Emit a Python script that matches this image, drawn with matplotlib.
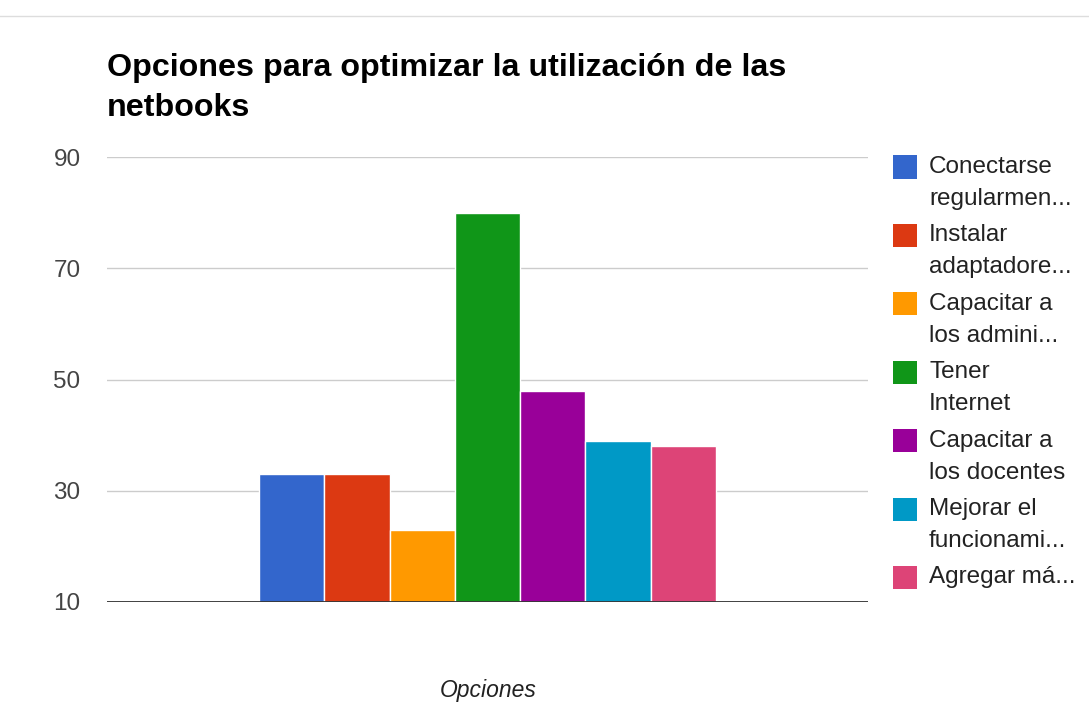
import matplotlib
matplotlib.use("Agg")
import matplotlib.pyplot as plt
from matplotlib.patches import Rectangle
from matplotlib.lines import Line2D

plt.rcParams['font.family'] = ['Liberation Sans', 'DejaVu Sans']

title = "Opciones para optimizar la utilización de las\nnetbooks"
xlabel = "Opciones"
series = ["Conectarse\nregularmen...", "Instalar\nadaptadore...", "Capacitar a\nlos admini...",
          "Tener\nInternet", "Capacitar a\nlos docentes", "Mejorar el\nfuncionami...", "Agregar má..."]
values = [33, 33, 23, 80, 48, 39, 38]
colors = ["#3366cc", "#dc3912", "#ff9900", "#109618", "#990099", "#0099c6", "#dd4477"]
yticks = [10, 30, 50, 70, 90]

W, H = 1089, 704
fig = plt.figure(figsize=(W / 100, H / 100), dpi=100)
ax = fig.add_axes([107 / W, 1 - 602 / H, (868 - 107) / W, (602 - 157) / H])

n = len(values)
group = 0.6
w = group / n
base = yticks[0]
for i, (v, c) in enumerate(zip(values, colors)):
    x = (i - (n - 1) / 2) * w
    ax.bar(x, v - base, bottom=base, width=w, color=c, edgecolor="white", linewidth=1, zorder=3)

ax.set_xlim(-0.5, 0.5)
ax.set_ylim(yticks[0], yticks[-1])
ax.set_yticks(yticks)
ax.set_xticks([])
ax.yaxis.grid(True, color="#cccccc", linewidth=1, zorder=0)
ax.axhline(base, color="#333333", linewidth=1.3, zorder=4)
for s in ax.spines.values():
    s.set_visible(False)
ax.tick_params(axis="y", length=0, pad=19, labelsize=17.5, labelcolor="#444444")

fig.text(488 / W, 1 - 690 / H, xlabel, fontsize=16.5, style="italic", color="#222222",
         ha="center", va="center")

for j, line in enumerate(title.split("\n")):
    fig.text(107 / W, 1 - (68 + j * 40) / H, line, fontsize=23.2, fontweight="bold",
             ha="left", va="center", color="#000000")

# legend (drawn per entry, first line aligned with the swatch)
pitch = 68.4
for i, (lab, c) in enumerate(zip(series, colors)):
    cy = 167 + i * pitch
    fig.add_artist(Rectangle((893 / W, 1 - (cy + 11.5) / H), 24 / W, 23 / H,
                             facecolor=c, edgecolor="none", transform=fig.transFigure))
    for j, line in enumerate(lab.split("\n")):
        fig.text(929 / W, 1 - (cy + j * 32) / H, line, fontsize=17.5, color="#222222",
                 ha="left", va="center")

fig.add_artist(Line2D([0, 1], [1 - 16 / H, 1 - 16 / H], color="#dddddd", linewidth=1,
                      transform=fig.transFigure))

fig.savefig("out.png", dpi=100)
